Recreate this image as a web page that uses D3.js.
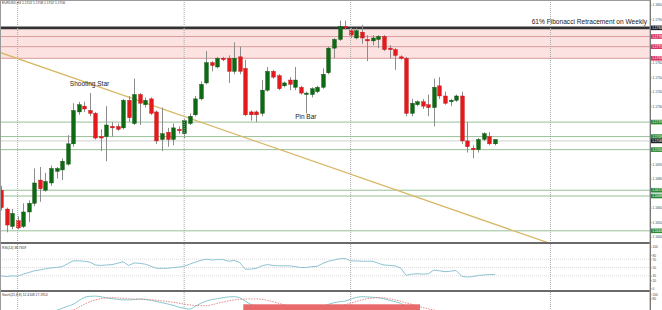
<!DOCTYPE html>
<html>
<head>
<meta charset="utf-8">
<script src="https://cdn.jsdelivr.net/npm/d3@7"></script>
<style>
  body { margin: 0; background: #fff; }
  svg { display: block; font-family: "Liberation Sans", Arial, sans-serif; }
</style>
</head>
<body>
<div id="chart"></div>
<script>
// EURUSD H4 - candles, RSI and stochastic
const width = 662;
const height = 310;
const plotRight = 650;

const opens = [1.1672, 1.1659, 1.1647, 1.1651, 1.1647, 1.1657, 1.1663, 1.1679, 1.1672, 1.1677,
  1.1685, 1.1686, 1.1690, 1.1704, 1.1726, 1.1730, 1.1727, 1.1725, 1.1709, 1.1709,
  1.1716, 1.1716, 1.1715, 1.1734, 1.1718, 1.1738, 1.1731, 1.1735, 1.1726, 1.1707,
  1.1712, 1.1707, 1.1714, 1.1711, 1.1718, 1.1724, 1.1735, 1.1746, 1.1760, 1.1757,
  1.1763, 1.1763, 1.1754, 1.1764, 1.1756, 1.1726, 1.1726, 1.1725, 1.1741, 1.1754,
  1.1751, 1.1744, 1.1748, 1.1743, 1.1743, 1.1738, 1.1738, 1.1740, 1.1743, 1.1753,
  1.1770, 1.1776, 1.1785, 1.1782, 1.1777, 1.1781, 1.1776, 1.1775, 1.1776, 1.1778,
  1.1770, 1.1769, 1.1764, 1.1763, 1.1725, 1.1731, 1.1733, 1.1731, 1.1729, 1.1744,
  1.1737, 1.1733, 1.1734, 1.1737, 1.1706, 1.1701, 1.1700, 1.1707, 1.1709, 1.1704];
const highs = [1.1675, 1.1660, 1.1659, 1.1654, 1.1663, 1.1665, 1.1687, 1.1688, 1.1684, 1.1689,
  1.1688, 1.1694, 1.1710, 1.1732, 1.1733, 1.1733, 1.1739, 1.1726, 1.1714, 1.1730,
  1.1719, 1.1718, 1.1735, 1.1737, 1.1749, 1.1739, 1.1736, 1.1736, 1.1727, 1.1729,
  1.1715, 1.1718, 1.1716, 1.1721, 1.1725, 1.1737, 1.1747, 1.1768, 1.1761, 1.1764,
  1.1764, 1.1765, 1.1774, 1.1771, 1.1762, 1.1727, 1.1727, 1.1748, 1.1757, 1.1755,
  1.1752, 1.1747, 1.1750, 1.1757, 1.1744, 1.1740, 1.1743, 1.1744, 1.1756, 1.1771,
  1.1777, 1.1789, 1.1789, 1.1784, 1.1784, 1.1786, 1.1779, 1.1779, 1.1779, 1.1779,
  1.1772, 1.1770, 1.1765, 1.1764, 1.1735, 1.1734, 1.1735, 1.1738, 1.1749, 1.1750,
  1.1740, 1.1735, 1.1738, 1.1740, 1.1719, 1.1703, 1.1708, 1.1712, 1.1712, 1.1707];
const lows = [1.1658, 1.1643, 1.1645, 1.1645, 1.1646, 1.1650, 1.1661, 1.1664, 1.1671, 1.1675,
  1.1680, 1.1679, 1.1689, 1.1702, 1.1724, 1.1726, 1.1723, 1.1707, 1.1699, 1.1692,
  1.1709, 1.1713, 1.1714, 1.1719, 1.1717, 1.1717, 1.1729, 1.1724, 1.1704, 1.1699,
  1.1702, 1.1703, 1.1711, 1.1708, 1.1717, 1.1723, 1.1734, 1.1745, 1.1754, 1.1756,
  1.1761, 1.1746, 1.1752, 1.1752, 1.1723, 1.1720, 1.1719, 1.1723, 1.1740, 1.1749,
  1.1741, 1.1743, 1.1741, 1.1741, 1.1738, 1.1725, 1.1736, 1.1739, 1.1742, 1.1752,
  1.1763, 1.1775, 1.1783, 1.1777, 1.1776, 1.1773, 1.1761, 1.1772, 1.1770, 1.1768,
  1.1763, 1.1755, 1.1762, 1.1723, 1.1723, 1.1730, 1.1728, 1.1723, 1.1716, 1.1735,
  1.1731, 1.1730, 1.1733, 1.1704, 1.1698, 1.1694, 1.1698, 1.1706, 1.1703, 1.1703];
const closes = [1.1660, 1.1648, 1.1656, 1.1646, 1.1657, 1.1663, 1.1677, 1.1673, 1.1678, 1.1687,
  1.1687, 1.1692, 1.1704, 1.1727, 1.1731, 1.1728, 1.1725, 1.1708, 1.1708, 1.1717,
  1.1715, 1.1714, 1.1734, 1.1722, 1.1738, 1.1732, 1.1734, 1.1725, 1.1706, 1.1711,
  1.1707, 1.1715, 1.1713, 1.1720, 1.1723, 1.1735, 1.1745, 1.1760, 1.1758, 1.1763,
  1.1762, 1.1754, 1.1763, 1.1754, 1.1724, 1.1724, 1.1724, 1.1741, 1.1754, 1.1750,
  1.1742, 1.1746, 1.1745, 1.1748, 1.1739, 1.1739, 1.1742, 1.1743, 1.1752, 1.1770,
  1.1776, 1.1785, 1.1784, 1.1779, 1.1782, 1.1777, 1.1775, 1.1777, 1.1778, 1.1769,
  1.1769, 1.1765, 1.1763, 1.1725, 1.1732, 1.1733, 1.1730, 1.1729, 1.1743, 1.1737,
  1.1732, 1.1734, 1.1737, 1.1706, 1.1702, 1.1700, 1.1707, 1.1711, 1.1704, 1.1707];

const rsiValues = [30, 28, 30, 29, 34, 38, 42, 44, 47, 49, 50, 52, 59, 66, 66, 65, 63, 56, 55, 56,
  57, 60, 64, 55, 61, 60, 58, 53, 48, 48, 48, 50, 51, 53, 58, 63, 67, 70, 68, 69,
  69, 65, 67, 62, 46, 46, 48, 54, 57, 55, 54, 54, 54, 52, 50, 50, 52, 53, 60, 65,
  68, 71, 72, 66, 66, 65, 65, 65, 60, 56, 55, 54, 49, 31, 34, 35, 34, 35, 44, 42,
  40, 41, 43, 29, 27, 28, 31, 32, 33, 33];

const stochMain = [8, 6, 5, 4, 5, 8, 10, 12, 14, 16, 20, 30, 40, 50, 68, 84, 90, 91, 88, 82,
  78, 75, 72, 72, 74, 76, 74, 70, 64, 58, 52, 45, 36, 30, 26, 40, 55, 66, 74, 78,
  83, 87, 88, 83, 66, 50, 38, 32, 30, 28, 26, 25, 26, 28, 27, 25, 28, 32, 40, 50,
  58, 63, 66, 76, 84, 88, 87, 85, 83, 77, 70, 63, 55, 40, 28, 20, 15, 14, 16, 18,
  18, 17, 17, 12, 8, 6, 8, 10, 12, 13];
const stochSignal = [10, 9, 8, 7, 6, 6, 7, 8, 10, 12, 14, 16, 18, 21, 35, 50, 63, 72, 78, 82,
  83, 82, 80, 78, 76, 76, 75, 73, 70, 67, 64, 60, 56, 51, 47, 44, 43, 43, 48, 55,
  61, 67, 72, 75, 76, 77, 77, 75, 70, 63, 55, 48, 41, 35, 31, 28, 27, 27, 28, 31,
  36, 42, 48, 56, 64, 72, 78, 81, 83, 82, 78, 72, 65, 57, 50, 42, 34, 27, 21, 18,
  16, 15, 15, 14, 13, 12, 11, 10, 10, 10];

const fibLevel = 1.1784;
const resistanceLevels = [1.1778, 1.1771, 1.1763];
const supportLevels = [1.1719, 1.1709, 1.1700, 1.1672, 1.1668, 1.1644];
const bidPrice = 1.1706;
const trendLine = [{ i: -0.2, p: 1.1767 }, { i: 98.4, p: 1.1636 }];
const gridBars = [3, 33, 63, 99];
const priceTicks = d3.range(1.1640, 1.18005, 0.001);
const rsiTicks = [100, 80, 70, 50, 30, 20, 0];
const stochTicks = [100, 80];
const notes = [
  { text: 'Shooting Star', i: 12.4, p: 1.1744 },
  { text: 'Pin Bar', i: 53, p: 1.1721 },
];

const candles = opens.map((o, i) => ({ i, o, h: highs[i], l: lows[i], c: closes[i] }));

const x = d3.scaleLinear().domain([0, 117]).range([1, 1 + 5.55 * 117]);
const y = d3.scaleLinear().domain([1.16356, 1.18032]).range([243, 0]);
const yRsi = d3.scaleLinear().domain([0, 100]).range([288.3, 246.7]);
const yStoch = d3.scaleLinear().domain([0, 100]).range([314.3, 294.3]);

const svg = d3.select('#chart')
  .append('svg')
  .attr('width', width)
  .attr('height', height);

const defs = svg.append('defs');
defs.append('clipPath').attr('id', 'main-clip')
  .append('rect').attr('x', 0).attr('y', 0).attr('width', plotRight).attr('height', 242);
defs.append('clipPath').attr('id', 'stoch-clip')
  .append('rect').attr('x', 0).attr('y', 292).attr('width', plotRight).attr('height', 18);

const main = svg.append('g').attr('clip-path', 'url(#main-clip)');

// pink resistance zone
main.append('rect')
  .attr('x', 0)
  .attr('width', plotRight)
  .attr('y', y(fibLevel))
  .attr('height', y(d3.min(resistanceLevels)) - y(fibLevel))
  .attr('fill', '#fde2e2');

// vertical dotted grid
svg.selectAll('.vgrid')
  .data(gridBars)
  .enter()
  .append('line')
  .attr('x1', d => x(d)).attr('x2', d => x(d))
  .attr('y1', 0).attr('y2', height)
  .attr('stroke', '#a8a8a8')
  .attr('stroke-dasharray', '1,1');

main.selectAll('.res')
  .data(resistanceLevels)
  .enter()
  .append('line')
  .attr('x1', 0).attr('x2', plotRight)
  .attr('y1', d => y(d)).attr('y2', d => y(d))
  .attr('stroke', '#d99a9a');

main.selectAll('.sup')
  .data(supportLevels)
  .enter()
  .append('line')
  .attr('x1', 0).attr('x2', plotRight)
  .attr('y1', d => y(d)).attr('y2', d => y(d))
  .attr('stroke', '#96c096');

main.append('line')
  .attr('x1', 0).attr('x2', plotRight)
  .attr('y1', y(bidPrice)).attr('y2', y(bidPrice))
  .attr('stroke', '#d0d0d0');

main.append('line')
  .attr('x1', 0).attr('x2', plotRight)
  .attr('y1', y(fibLevel)).attr('y2', y(fibLevel))
  .attr('stroke', '#333')
  .attr('stroke-width', 2.6);

main.append('path')
  .datum(trendLine)
  .attr('d', d3.line().x(d => x(d.i)).y(d => y(d.p)))
  .attr('stroke', '#d8b866')
  .attr('stroke-width', 1.3)
  .attr('fill', 'none');

// candles
const bar = main.selectAll('.candle')
  .data(candles)
  .enter()
  .append('g');

bar.append('line')
  .attr('x1', d => Math.round(x(d.i)) + 0.5).attr('x2', d => Math.round(x(d.i)) + 0.5)
  .attr('y1', d => y(d.h)).attr('y2', d => y(d.l))
  .attr('stroke', '#8c8c8c');

bar.append('rect')
  .attr('x', d => Math.round(x(d.i)) + 0.5 - 1.9)
  .attr('width', 3.8)
  .attr('y', d => y(Math.max(d.o, d.c)))
  .attr('height', d => Math.max(1, Math.abs(y(d.o) - y(d.c))))
  .attr('fill', d => (d.c >= d.o ? '#0d6a12' : '#e3191c'))
  .attr('stroke', d => (d.c >= d.o ? '#0a4f0d' : '#c41215'))
  .attr('stroke-width', 0.4);

main.selectAll('.note')
  .data(notes)
  .enter()
  .append('text')
  .attr('x', d => x(d.i))
  .attr('y', d => y(d.p))
  .attr('font-size', 6.5)
  .attr('fill', '#222')
  .text(d => d.text);

main.append('text')
  .attr('x', 647)
  .attr('y', y(fibLevel) - 4)
  .attr('text-anchor', 'end')
  .attr('font-size', 6.6)
  .attr('fill', '#222')
  .text('61% Fibonacci Retracement on Weekly');

// RSI panel
svg.selectAll('.rgrid')
  .data([70, 50, 30])
  .enter()
  .append('line')
  .attr('x1', 0).attr('x2', plotRight)
  .attr('y1', d => yRsi(d)).attr('y2', d => yRsi(d))
  .attr('stroke', '#dddddd')
  .attr('stroke-dasharray', '1,1');

svg.append('path')
  .datum(rsiValues)
  .attr('d', d3.line().x((d, i) => x(i)).y(d => yRsi(d)))
  .attr('stroke', '#8ec3d6')
  .attr('stroke-width', 1)
  .attr('fill', 'none');

// stochastic panel
const stoch = svg.append('g').attr('clip-path', 'url(#stoch-clip)');
stoch.append('path')
  .datum(stochMain)
  .attr('d', d3.line().curve(d3.curveMonotoneX).x((d, i) => x(i)).y(d => yStoch(d)))
  .attr('stroke', '#86c9cf')
  .attr('stroke-width', 1)
  .attr('fill', 'none');
stoch.append('path')
  .datum(stochSignal)
  .attr('d', d3.line().curve(d3.curveMonotoneX).x((d, i) => x(i)).y(d => yStoch(d)))
  .attr('stroke', '#e07a7a')
  .attr('stroke-width', 0.9)
  .attr('stroke-dasharray', '1.5,1.2')
  .attr('fill', 'none');
stoch.append('rect')
  .attr('x', x(43.66))
  .attr('width', x(75.5) - x(43.66))
  .attr('y', yStoch(50))
  .attr('height', yStoch(0) - yStoch(50))
  .attr('fill', '#e86a6a');

// panel separators and frame
svg.selectAll('.sep')
  .data([243, 291])
  .enter()
  .append('line')
  .attr('x1', 0).attr('x2', plotRight)
  .attr('y1', d => d).attr('y2', d => d)
  .attr('stroke', '#6a6a6a')
  .attr('stroke-width', 2);

svg.append('rect')
  .attr('x', 0.5).attr('y', 0.5)
  .attr('width', plotRight - 0.5).attr('height', height)
  .attr('fill', 'none')
  .attr('stroke', '#9a9a9a');

// right price axis
const boxLevels = [{ p: fibLevel, c: '#222' }]
  .concat(resistanceLevels.map(p => ({ p, c: '#d8365a' })))
  .concat(supportLevels.map(p => ({ p, c: '#2f8a2f' })))
  .concat([{ p: bidPrice, c: '#222' }]);

const visibleTicks = priceTicks.filter(t => boxLevels.every(b => Math.abs(y(b.p) - y(t)) > 4));
const priceAxis = d3.axisRight(y)
  .tickValues(visibleTicks)
  .tickSize(1.5)
  .tickFormat(d3.format('.4f'));
svg.append('g')
  .attr('transform', `translate(${plotRight}, 0)`)
  .call(priceAxis)
  .call(g => g.select('.domain').remove())
  .call(g => g.selectAll('text').attr('font-size', 3.2).attr('fill', '#444').attr('x', 2.5))
  .call(g => g.selectAll('line').attr('stroke', '#777'));

svg.append('line')
  .attr('x1', plotRight + 0.5).attr('x2', plotRight + 0.5)
  .attr('y1', 0).attr('y2', height)
  .attr('stroke', '#777');

const box = svg.selectAll('.pbox')
  .data(boxLevels)
  .enter()
  .append('g')
  .attr('transform', d => `translate(${plotRight + 1}, ${y(d.p)})`);
box.append('rect')
  .attr('x', 0).attr('y', -2.3)
  .attr('width', 11).attr('height', 4.6)
  .attr('fill', d => d.c);
box.append('text')
  .attr('x', 1.2).attr('y', 1.1)
  .attr('font-size', 3.2)
  .attr('fill', '#fff')
  .text(d => d3.format('.4f')(d.p));

svg.append('g')
  .attr('transform', `translate(${plotRight}, 0)`)
  .call(d3.axisRight(yRsi).tickValues(rsiTicks).tickSize(1.5))
  .call(g => g.select('.domain').remove())
  .call(g => g.selectAll('text').attr('font-size', 3.2).attr('fill', '#444').attr('x', 2.5))
  .call(g => g.selectAll('line').attr('stroke', '#777'));

svg.append('g')
  .attr('transform', `translate(${plotRight}, 0)`)
  .call(d3.axisRight(yStoch).tickValues(stochTicks).tickSize(1.5))
  .call(g => g.select('.domain').remove())
  .call(g => g.selectAll('text').attr('font-size', 3.2).attr('fill', '#444').attr('x', 2.5))
  .call(g => g.selectAll('line').attr('stroke', '#777'));

// panel titles
const titles = [
  { text: 'EURUSD,H4 1.1702 1.1708 1.1702 1.1706', y: 4 },
  { text: 'RSI(14) 38.7659', y: 248.5 },
  { text: 'Stoch(21,8,8) 12.4108 17.1914', y: 296 },
];
svg.selectAll('.title')
  .data(titles)
  .enter()
  .append('text')
  .attr('x', 2)
  .attr('y', d => d.y)
  .attr('font-size', 3.3)
  .attr('fill', '#333')
  .text(d => d.text);
</script>
</body>
</html>
